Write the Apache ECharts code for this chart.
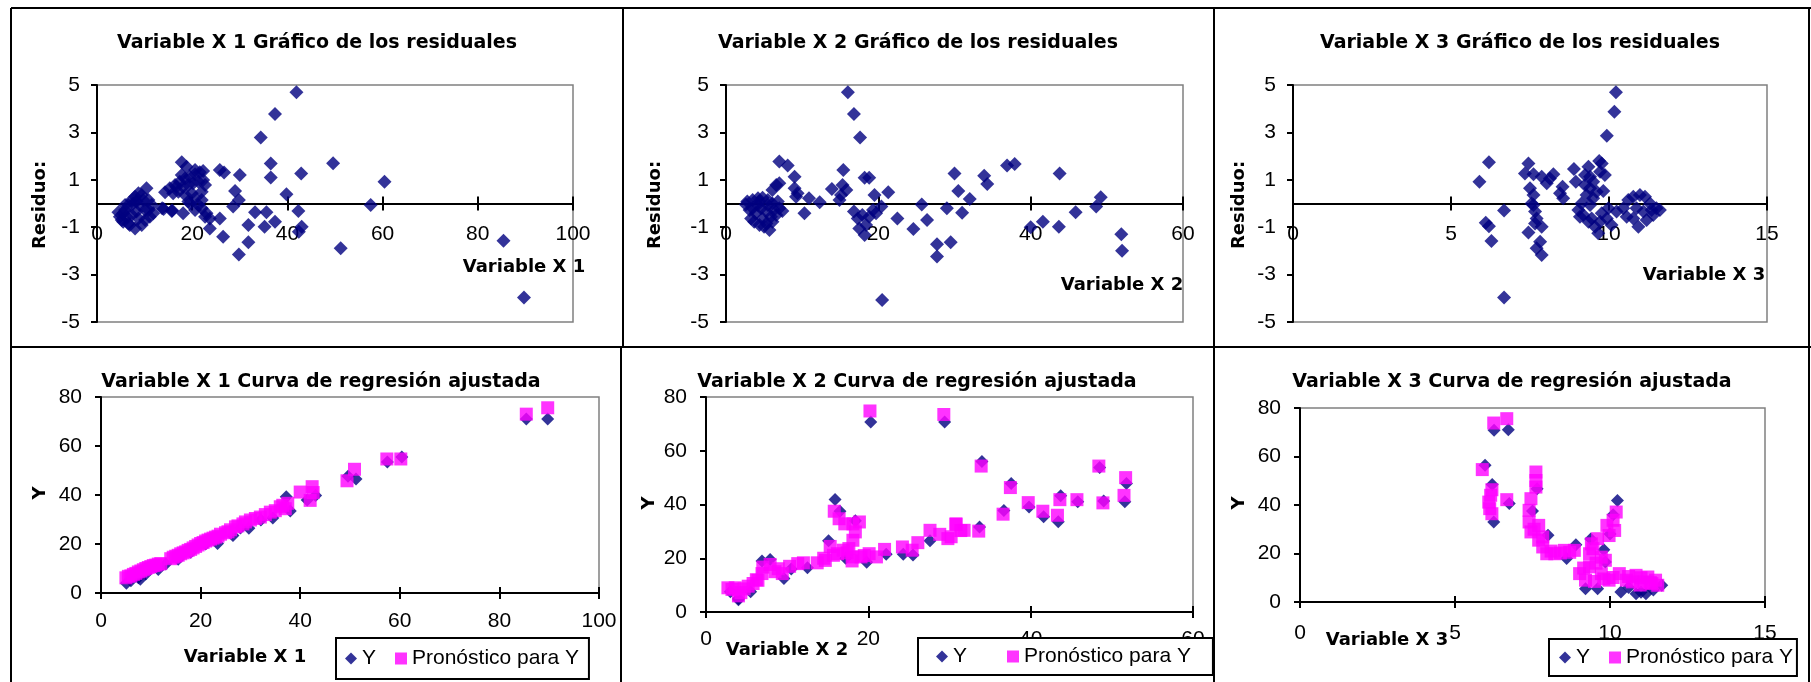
<!DOCTYPE html>
<html><head><meta charset="utf-8">
<script src="https://cdn.jsdelivr.net/npm/echarts@6/dist/echarts.min.js"></script>
<style>html,body{margin:0;padding:0;background:#fff;}#c{width:1811px;height:682px;}</style>
</head><body><div id="c"></div>
<script>
// ---------- DATA ----------
const titles = [
  'Variable X 1 Gráfico de los residuales',
  'Variable X 2 Gráfico de los residuales',
  'Variable X 3 Gráfico de los residuales',
  'Variable X 1 Curva de regresión ajustada',
  'Variable X 2 Curva de regresión ajustada',
  'Variable X 3 Curva de regresión ajustada'
];
const xNames = ['Variable X 1', 'Variable X 2', 'Variable X 3'];
const residTicks = [-5, -3, -1, 1, 3, 5];
const seriesNames = ['Y', 'Pronóstico para Y'];

// Residuals vs X1
const res1 = [
[41.9,4.69],[37.4,3.78],[34.4,2.78],[36.5,1.69],[36.5,1.1],[42.9,1.27],[39.8,0.39],[42.3,-0.32],[43.0,-0.98],[42.4,-1.19],[37.4,-0.77],[35.2,-0.98],[35.6,-0.37],[33.2,-0.37],[31.8,-0.91],[31.8,-1.64],[29.8,-2.15],[26.5,-1.4],[23.7,-1.05],[25.8,-0.63],[30.0,1.2],[25.8,1.41],[26.7,1.31],[29.0,0.53],[29.8,0.15],[28.6,-0.13],
[57.5,-0.06],[60.4,0.92],[49.6,1.7],[51.2,-1.89],[85.4,-1.57],[89.7,-3.97],
[14.3,0.47],[15.3,0.64],[16.4,0.78],[17.4,0.92],[18.5,1.06],[19.5,1.13],[20.6,1.23],[21.6,1.32],[22.3,1.37],[17.1,0.5],[18.1,0.71],[19.2,0.78],[20.2,0.85],[21.3,0.92],[22.3,0.99],[18.5,0.36],[19.9,0.43],[20.6,0.22],[22.0,0.5],[16.0,0.43],[16.7,0.71],[17.8,1.2],[20.6,1.41],[17.8,1.74],[18.8,1.55],[22.7,0.78],[19.2,0.08],[14.0,-0.23],[15.7,-0.32],[18.1,-0.41],[20.6,-0.27],[22.0,-0.2],[23.0,-0.41],[23.7,-0.63],[22.7,-0.56],[21.3,-0.06],[19.5,0.0],[22.0,0.15],[10.4,0.64],
[4.5,-0.37],[5.2,-0.7],[4.8,-0.56],[5.9,-0.27],[6.6,-0.06],[7.3,0.15],[8.0,0.29],[8.7,0.43],[9.4,0.36],[10.8,0.15],[11.5,-0.06],[11.8,-0.41],[11.1,-0.56],[10.1,-0.7],[9.4,-0.91],[8.0,-1.05],[6.6,-0.84],[5.5,-0.77],[7.3,-0.49],[8.3,-0.34],[9.0,-0.06],[6.2,-0.56],[10.1,-0.27],[7.6,0.0],[6.9,-0.91],[8.7,-0.63],[10.8,-0.27],[9.7,0.15],[5.5,-0.41],[8.3,0.08],[5.9,-0.06],[13.7,-0.2],[15.8,-0.3]
];
// Residuals vs X2
const res2 = [
[16.0,4.69],[16.8,3.78],[17.6,2.78],[7.0,1.77],[8.1,1.6],[9.0,1.13],[6.6,0.78],[7.0,0.85],[6.1,0.57],[9.0,0.64],[9.4,0.43],[9.2,0.29],[10.9,0.22],[12.3,0.05],[10.3,-0.41],
[15.4,1.41],[15.3,0.78],[15.8,0.57],[13.9,0.61],[14.9,0.15],[15.1,0.36],
[18.2,1.09],[18.8,1.09],[19.5,0.36],[21.3,0.47],[16.8,-0.34],[17.9,-0.49],[18.8,-0.56],[17.5,-1.05],[18.2,-1.33],[19.7,-0.41],[20.4,-0.13],[20.5,-4.07],[22.5,-0.63],[24.6,-1.08],[25.7,-0.04],[26.4,-0.7],[27.7,-1.72],[27.7,-2.24],[29.5,-1.64],[29.0,-0.2],[30.0,1.27],[30.5,0.53],[31.0,-0.39],
[32.0,0.19],[33.9,1.17],[34.3,0.82],[36.9,1.6],[37.9,1.67],[40.0,-1.0],[41.6,-0.77],[43.7,-0.98],[43.8,1.27],[45.9,-0.37],[48.6,-0.13],[49.2,0.26],[51.9,-1.3],[52.0,-1.99],
[17.3,-0.63],[18.4,-0.91],[19.3,-0.27],
[2.8,0.08],[3.5,0.15],[4.2,0.22],[4.8,0.24],[5.5,0.15],[6.1,0.0],[7.0,-0.2],[7.4,-0.32],[6.6,-0.49],[6.1,-0.77],[5.7,-1.12],[5.0,-0.98],[4.4,-0.91],[3.7,-0.77],[3.3,-0.63],[3.9,-0.41],[4.6,-0.2],[5.3,-0.34],[5.9,-0.56],[3.5,-0.2],[4.2,-0.06],[4.8,-0.63],[5.5,-0.06],[6.3,-0.27],[3.1,-0.27],[2.6,-0.04],[5.3,-0.84],[4.4,0.08],[6.8,0.08]
];
// Residuals vs X3
const res3 = [
[10.22,4.69],[10.17,3.87],[9.93,2.86],[9.69,1.79],[9.77,1.69],[9.87,1.2],[9.82,0.53],
[7.45,1.69],[7.34,1.27],[7.61,1.23],[7.87,1.13],[8.13,1.06],[8.24,1.23],[8.03,0.85],[7.5,0.64],[7.61,0.36],[7.55,0.0],[7.66,-0.34],[7.71,-0.63],[7.87,-0.98],[7.45,-1.22],[7.71,-1.89],[7.87,-2.17],[7.82,-1.61],[7.61,-0.06],[7.66,-0.84],
[8.53,0.71],[8.55,0.22],[8.45,0.43],[8.89,1.46],[8.95,0.92],
[9.35,1.55],[9.4,1.13],[9.24,0.78],[9.29,0.36],[9.13,0.0],[9.03,-0.27],[9.08,-0.56],[9.4,-0.06],[9.45,-0.63],[9.56,-0.98],[9.66,-1.26],[9.61,0.5],[9.5,0.92],[9.77,-0.41],[9.93,-0.63],[10.08,-0.91],[10.24,-0.34],[9.98,-0.2],[9.19,-0.49],[9.35,-0.77],[9.72,-0.77],[9.5,0.22],[9.4,0.64],[9.72,1.34],[9.24,1.2],
[10.61,0.15],[10.77,0.29],[10.98,0.36],[11.14,0.29],[11.3,0.0],[11.5,-0.2],[11.61,-0.27],[11.4,-0.49],[11.19,-0.7],[10.93,-0.98],[10.77,-0.63],[10.56,-0.56],[10.45,-0.2],[10.87,-0.2],[11.09,-0.34],[11.35,-0.27],
[6.68,-0.3],[6.68,-3.97],[6.2,1.74],[5.9,0.92],[6.1,-0.81],[6.2,-0.96],[6.28,-1.58]
];

// Fitted curve X1
const y1 = [
[5.1,4.0],[6.0,5.0],[7.9,5.6],[7.5,6.2],[9.0,7.8],[11.5,9.6],[13.0,11.8],[15.5,13.8],[18.0,16.6],[21.0,20.0],[23.4,20.2],[26.5,23.5],[28.0,26.5],[29.7,26.4],[32.1,29.8],[34.5,30.6],[37.2,39.3],[38.0,33.5],[41.4,38.0],[43.1,39.8],[49.6,47.7],[51.2,46.5],[57.5,53.5],[60.4,55.5],[85.4,71.0],[89.7,71.0]
];
const p1 = [
[5.0,6.2],[5.5,6.8],[6.0,7.0],[6.5,7.6],[7.0,8.0],[7.5,8.6],[8.0,9.0],[8.5,9.5],[9.0,10.0],[9.5,10.4],[10.0,10.8],[10.5,11.2],[11.0,11.4],[11.5,11.8],[12.0,12.0],[14.0,14.0],[14.5,14.6],[15.0,15.0],[15.5,15.4],[16.0,16.0],[16.5,16.4],[17.0,16.8],[17.5,17.4],[18.0,17.8],[18.5,18.4],[19.0,19.0],[19.5,19.6],[20.0,20.2],[20.5,20.6],[21.0,21.2],[21.5,21.6],[22.0,22.0],[22.5,22.4],[23.0,22.8],[23.5,23.2],[24.0,24.0],[25.0,24.6],[25.5,25.0],[26.0,25.8],[27.0,27.0],[27.5,27.4],[28.5,28.2],[29.0,29.0],[30.0,29.8],[31.0,30.4],[32.0,31.0],[33.0,32.0],[34.0,33.0],[35.0,33.6],[36.0,35.2],[36.5,35.8],[37.0,34.4],[37.5,36.6],[40.0,41.2],[42.4,43.4],[42.0,37.8],[42.6,41.0],[49.4,45.8],[50.9,50.5],[57.4,54.7],[60.2,54.7],[85.4,73.0],[89.7,75.6]
];
// Fitted curve X2
const y2 = [
[20.3,70.7],[29.4,70.7],[34.0,56.0],[37.6,47.8],[36.7,37.8],[39.8,39.1],[41.6,35.4],[43.4,33.6],[43.7,43.3],[45.8,41.0],[48.5,53.8],[49.0,41.3],[51.6,41.0],[51.8,47.8],[33.7,31.6],[15.9,41.9],[16.5,37.5],[18.4,34.0],[15.1,26.5],[9.6,12.5],[7.9,19.5],[6.9,19.0],[4.0,4.6],[4.0,5.0],[5.5,7.5],[12.5,16.5],[22.2,21.5],[24.3,21.5],[25.5,21.2],[27.6,26.5],[19.8,18.5],[17.2,20.0],[10.5,16.0],[3.0,7.5]
];
const p2 = [
[20.2,74.8],[29.3,73.5],[33.9,54.3],[37.5,46.3],[36.6,36.4],[39.7,40.7],[41.5,37.5],[43.3,36.0],[43.6,41.8],[45.7,41.8],[48.4,54.3],[48.9,40.6],[51.5,43.4],[51.7,50.0],[33.6,30.1],[30.8,32.6],[31.4,30.3],[30.2,28.0],
[2.7,9.0],[3.2,8.4],[3.6,9.0],[4.0,6.0],[4.3,7.2],[4.7,8.6],[5.2,9.6],[5.8,10.6],[6.2,12.0],[6.4,11.8],[6.9,14.3],[7.0,16.7],[7.9,17.7],[8.5,15.0],[8.9,16.1],[9.4,14.3],[10.3,17.0],[11.3,18.0],[12.0,18.3],[13.7,18.3],[14.7,19.2],[15.3,24.4],[15.7,21.1],[16.2,21.7],[16.9,23.0],[17.6,23.6],[18.1,26.7],[18.1,20.5],[18.4,29.8],[19.1,20.5],[20.1,21.7],[21.0,20.5],[22.0,23.3],[24.2,24.2],[25.4,23.0],[26.1,25.8],[27.6,30.4],[28.8,28.9],[29.8,27.3],[30.8,32.8],[31.8,30.4],
[15.8,37.5],[16.4,34.7],[17.1,32.8],[18.1,32.8],[18.9,33.5],[17.4,22.0],[18.0,19.0],[19.5,21.0],[14.5,20.0]
];
// Fitted curve X3
const y3 = [
[6.26,70.8],[6.72,71.0],[5.97,56.4],[6.25,33.0],[6.75,40.6],[6.2,48.5],[7.65,46.7],[8.6,17.9],[8.9,23.6],[10.24,41.9],[10.84,3.4],[11.16,3.4],[10.35,4.1],[11.67,6.9],[9.6,5.5],[9.21,5.5],[9.38,26.0],[8.0,27.5],[7.5,37.5],[9.8,21.5],[10.1,36.0],[10.0,28.0],[9.85,16.5],[11.0,4.0],[11.4,5.0],[10.6,6.0]
];
const p3 = [
[6.25,73.8],[6.67,75.6],[5.88,54.6],[6.19,46.3],[6.09,41.2],[6.19,36.4],[6.67,42.2],[6.15,44.0],[6.12,38.5],[7.61,53.6],[7.61,50.1],[7.61,47.4],[7.45,42.6],[7.39,37.8],[7.39,33.0],[7.45,28.9],[7.7,31.6],[7.83,26.8],[7.83,22.7],[7.96,19.9],[8.22,19.9],[8.53,21.3],[8.85,21.3],[7.55,30.0],[7.7,25.5],[8.1,21.0],[8.4,20.2],[8.7,20.5],
[9.02,11.7],[9.21,9.0],[9.34,14.5],[9.34,19.9],[9.4,24.0],[9.6,26.1],[9.72,18.5],[9.85,17.2],[9.72,11.7],[9.97,9.0],[10.1,10.1],[10.3,11.7],[9.9,31.6],[10.1,33.7],[10.2,37.1],[10.15,29.5],[9.97,27.4],[9.45,22.0],[9.55,16.0],[9.15,14.0],[9.5,8.5],[9.8,9.5],
[10.53,9.0],[10.84,11.0],[11.22,10.3],[11.47,9.0],[10.97,7.0],[10.72,8.3],[11.1,8.3],[11.35,7.6],[11.54,6.9],[10.6,10.5],[11.0,10.0],[11.3,8.0]
];

// x-axis ranges [min,max,interval]
const xRanges = [[0,100,20],[0,60,20],[0,15,5],[0,100,20],[0,60,20],[0,15,5]];
const yFitRange = [0, 80, 20];

// ---------- LAYOUT ----------
const grids = [
  {left:97, top:85, width:476, height:237},
  {left:726, top:85, width:457, height:237},
  {left:1293, top:85, width:474, height:237},
  {left:101, top:397, width:498, height:196},
  {left:706, top:397, width:487, height:215},
  {left:1300, top:408, width:465, height:194}
];
const xLabelMargin = [20,20,20,18,17,21];
const NAVY = '#000080', MAG = '#FF00FF';
const tickFont = {color:'#000', fontSize:21, fontFamily:'"Liberation Sans", Arial, sans-serif'};

const xAxis = [], yAxis = [], series = [];
grids.forEach((g, i) => {
  const top = i < 3;
  const r = xRanges[i];
  const base = {
    gridIndex:i, type:'value', min:r[0], max:r[1], interval:r[2],
    splitLine:{show:false},
    axisLine:{onZero:false, lineStyle:{color:'#000', width:2}},
    axisTick:{show:true, length:top?7:6, lineStyle:{color:'#000', width:2}}
  };
  xAxis.push(Object.assign({}, base, {
    position:'bottom', offset: top ? -g.height/2 : 0,
    axisLabel:Object.assign({margin:xLabelMargin[i], showMinLabel:true, showMaxLabel:true}, tickFont)
  }));
  xAxis.push(Object.assign({}, base, {
    position:'top', offset: top ? -g.height/2 : -g.height,
    axisLabel:{show:false}
  }));
  const yb = {
    gridIndex:i, type:'value', position:'left',
    splitLine:{show:false},
    axisLine:{onZero:false, lineStyle:{color:'#000', width:2}}
  };
  if (top) {
    yAxis.push(Object.assign(yb, {
      min:-5, max:5,
      axisTick:{show:true, length:6, customValues:residTicks, lineStyle:{color:'#000', width:2}},
      axisLabel:Object.assign({margin:17, customValues:residTicks}, tickFont)
    }));
  } else {
    yAxis.push(Object.assign(yb, {
      min:yFitRange[0], max:yFitRange[1], interval:yFitRange[2],
      axisTick:{show:true, length:6, lineStyle:{color:'#000', width:2}},
      axisLabel:Object.assign({margin:19}, tickFont)
    }));
  }
});

const resids = [res1, res2, res3];
resids.forEach((d, i) => {
  series.push({type:'scatter', name:'Residuos', xAxisIndex:2*i, yAxisIndex:i, data:d,
    symbol:'diamond', symbolSize:14, itemStyle:{color:NAVY}});
});
const fitsY = [y1, y2, y3], fitsP = [p1, p2, p3];
[0,1,2].forEach(k => {
  const i = k + 3;
  series.push({type:'scatter', name:seriesNames[0], xAxisIndex:2*i, yAxisIndex:i, data:fitsY[k],
    symbol:'diamond', symbolSize:13, itemStyle:{color:NAVY}});
  series.push({type:'scatter', name:seriesNames[1], xAxisIndex:2*i, yAxisIndex:i, data:fitsP[k],
    symbol:'rect', symbolSize:13, itemStyle:{color:MAG}});
});

const legendBase = {
  orient:'horizontal', itemWidth:12, itemHeight:12,
  backgroundColor:'#fff', borderColor:'#000', borderWidth:2, borderRadius:0,
  textStyle:{color:'#000', fontSize:21, fontFamily:'"Liberation Sans", Arial, sans-serif'},
  data:[{name:seriesNames[0], icon:'diamond'}, {name:seriesNames[1], icon:'rect'}],
  selectedMode:false
};
const legend = [
  Object.assign({}, legendBase, {left:336, top:638, padding:[10,10,10,9], itemGap:19}),
  Object.assign({}, legendBase, {left:918, top:638, padding:[8,22,8,18], itemGap:40}),
  Object.assign({}, legendBase, {left:1549, top:639, padding:[8,4,8,10], itemGap:19})
];

// ---------- GRAPHICS (frames, titles, axis names) ----------
const TFONT = 'bold 19px "DejaVu Sans", sans-serif';
const NFONT = 'bold 18px "DejaVu Sans", sans-serif';
function txt(t, x, y, font, rot) {
  return {type:'text', x:x, y:y, rotation:rot||0, z:10,
    style:{text:t, font:font, fill:'#000', textAlign:'center', textVerticalAlign:'middle', align:'center', verticalAlign:'middle'}};
}
function ln(x1,y1,x2,y2) {
  return {type:'line', shape:{x1:x1,y1:y1,x2:x2,y2:y2}, style:{stroke:'#000', lineWidth:2}, z:10};
}
const titlePos = [[317,43],[918,43],[1520,43],[321,382],[917,382],[1512,382]];
const xNamePos = [[524,267],[1122,285],[1704,275],[245,657],[787,650],[1387,640]];
const yNamePos = [[40,205],[655,205],[1239,205],[40,493],[649,503],[1239,503]];
const graphic = [
  ln(11,8,1811,8), ln(11,347,1811,347),
  ln(11,8,11,682), ln(623,8,623,347), ln(621,347,621,682), ln(1214,8,1214,682), ln(1809,8,1809,682)
];
titles.forEach((t,i) => graphic.push(txt(t, titlePos[i][0], titlePos[i][1], TFONT)));
xNamePos.forEach((p,i) => graphic.push(txt(xNames[i%3], p[0], p[1], NFONT)));
yNamePos.forEach((p,i) => graphic.push(txt(i<3 ? 'Residuo:' : 'Y', p[0], p[1], NFONT, Math.PI/2)));

const chart = echarts.init(document.getElementById('c'), null, {renderer:'canvas'});
chart.setOption({
  animation:false,
  backgroundColor:'#fff',
  grid: grids.map(g => Object.assign({show:true, borderColor:'#808080', borderWidth:1.5, backgroundColor:'#fff'}, g)),
  xAxis:xAxis, yAxis:yAxis, series:series, legend:legend, graphic:graphic
});
</script>
</body></html>
